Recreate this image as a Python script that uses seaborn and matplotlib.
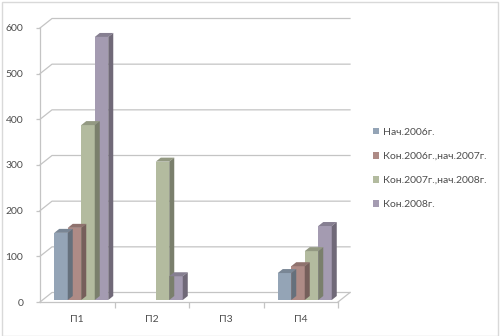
import numpy as np
import pandas as pd
import seaborn as sns
import matplotlib
matplotlib.use('Agg')
import matplotlib.pyplot as plt
from matplotlib.patches import Polygon, Rectangle, Patch
from matplotlib.lines import Line2D
import matplotlib.transforms as mtransforms
from matplotlib.colors import to_rgb

# ---- data ----
categories = ['П1', 'П2', 'П3', 'П4']
series_names = ['Нач.2006г.', 'Кон.2006г.,нач.2007г.', 'Кон.2007г.,нач.2008г.', 'Кон.2008г.']
nach2006 = [147, 0, 0, 59]
kon2006_nach2007 = [158, 0, 0, 74]
kon2007_nach2008 = [383, 303, 0, 107]
kon2008 = [576, 52, 0, 162]
y_ticks = [0, 100, 200, 300, 400, 500, 600]

colors = ['#94a4b6', '#ae8b86', '#b3bb9f', '#a49bb1']

W, H = 500, 336
plt.rcParams['font.family'] = ['Lato', 'DejaVu Sans']
TXT = '#4d4d4d'
GRID = '#c4c4c4'

rows = []
for name, vals in zip(series_names, [nach2006, kon2006_nach2007, kon2007_nach2008, kon2008]):
    for c, v in zip(categories, vals):
        rows.append({'cat': c, 'series': name, 'val': v})
df = pd.DataFrame(rows)

fig = plt.figure(figsize=(W / 100, H / 100), dpi=100)
fig.patch.set_facecolor('white')
ax = fig.add_axes([40 / W, (H - 302) / H, 298 / W, 274 / H])
ax.patch.set_alpha(0)

sns.barplot(data=df, x='cat', y='val', hue='series', hue_order=series_names,
            order=categories, palette=colors, width=0.725, gap=0, saturation=1,
            ax=ax, legend=False, errorbar=None, linewidth=0, edgecolor='none')

ax.set_xlim(-0.5, 3.5)
ax.set_ylim(0, 600)
ax.set_autoscale_on(False)
ax.set_yticks(y_ticks)
ax.set_xlabel('')
ax.set_ylabel('')

IDT = mtransforms.IdentityTransform()
DXW, DYW = 12, 9.5      # wall depth (px)
BX, BY = 4, 2.0         # bar placement inside depth
DXB, DYB = 5, 4         # bar depth


def shade(c, f):
    r, g, b = to_rgb(c)
    return (r * f, g * f, b * f)


bar_tr = mtransforms.offset_copy(ax.transData, fig=fig, x=BX, y=BY, units='dots')
bars = [p for p in ax.patches if isinstance(p, Rectangle)]
for p in bars:
    p.set_transform(bar_tr)
    p.set_zorder(3)
    p.set_clip_on(False)
    h = p.get_height()
    if h <= 0:
        p.set_visible(False)
        continue
    x0 = p.get_x()
    x1 = x0 + p.get_width()
    (px0, pb), (px1, pt) = bar_tr.transform([(x0, 0), (x1, h)])
    fc = p.get_facecolor()
    top = Polygon([(px0, pt), (px1, pt), (px1 + DXB, pt + DYB), (px0 + DXB, pt + DYB)],
                  closed=True, transform=IDT, facecolor=shade(fc, 0.82),
                  edgecolor='none', zorder=3, clip_on=False)
    side = Polygon([(px1, pb), (px1, pt), (px1 + DXB, pt + DYB), (px1 + DXB, pb + DYB)],
                   closed=True, transform=IDT, facecolor=shade(fc, 0.68),
                   edgecolor='none', zorder=3, clip_on=False)
    ax.add_patch(top)
    ax.add_patch(side)

# back wall gridlines and floor
for yv in y_ticks:
    xa, ya = ax.transData.transform((-0.5, yv))
    xb, _ = ax.transData.transform((3.5, yv))
    ln = Line2D([xa, xa + DXW, xb + DXW], [ya, ya + DYW, ya + DYW], transform=IDT,
                color=GRID, lw=0.9, zorder=1, clip_on=False)
    ax.add_line(ln)
xb, y0 = ax.transData.transform((3.5, 0))
ax.add_line(Line2D([xb, xb + DXW], [y0, y0 + DYW], transform=IDT, color=GRID, lw=0.9,
                   zorder=1, clip_on=False))

for s in ['top', 'right']:
    ax.spines[s].set_visible(False)
for s in ['left', 'bottom']:
    ax.spines[s].set_color(GRID)
    ax.spines[s].set_linewidth(0.9)

ax.set_xticks([0.5, 1.5, 2.5, 3.5], minor=True)
ax.tick_params(axis='x', which='major', length=0, pad=9, labelsize=7.5, labelcolor=TXT)
ax.tick_params(axis='x', which='minor', length=4, width=0.9, color=GRID, direction='out')
ax.tick_params(axis='y', which='major', length=3, width=0.9, color=GRID, pad=9,
               labelsize=7.5, labelcolor=TXT, direction='out')
ax.grid(False)

handles = [Patch(facecolor=c, edgecolor='none') for c in colors]
fig.legend(handles, series_names, loc='center left', bbox_to_anchor=(373 / W, (H - 168.5) / H),
           frameon=False, fontsize=7.5, handlelength=0.6, handleheight=0.6,
           handletextpad=0.4, labelspacing=1.45, borderpad=0, borderaxespad=0,
           labelcolor=TXT)

fig.patches.append(Rectangle((2 / W, 0.5 / H), 496 / W, 334 / H, transform=fig.transFigure,
                             facecolor='none', edgecolor='#d9d9d9', lw=1.0, zorder=0))

fig.savefig('out.png', dpi=100, facecolor='white')
